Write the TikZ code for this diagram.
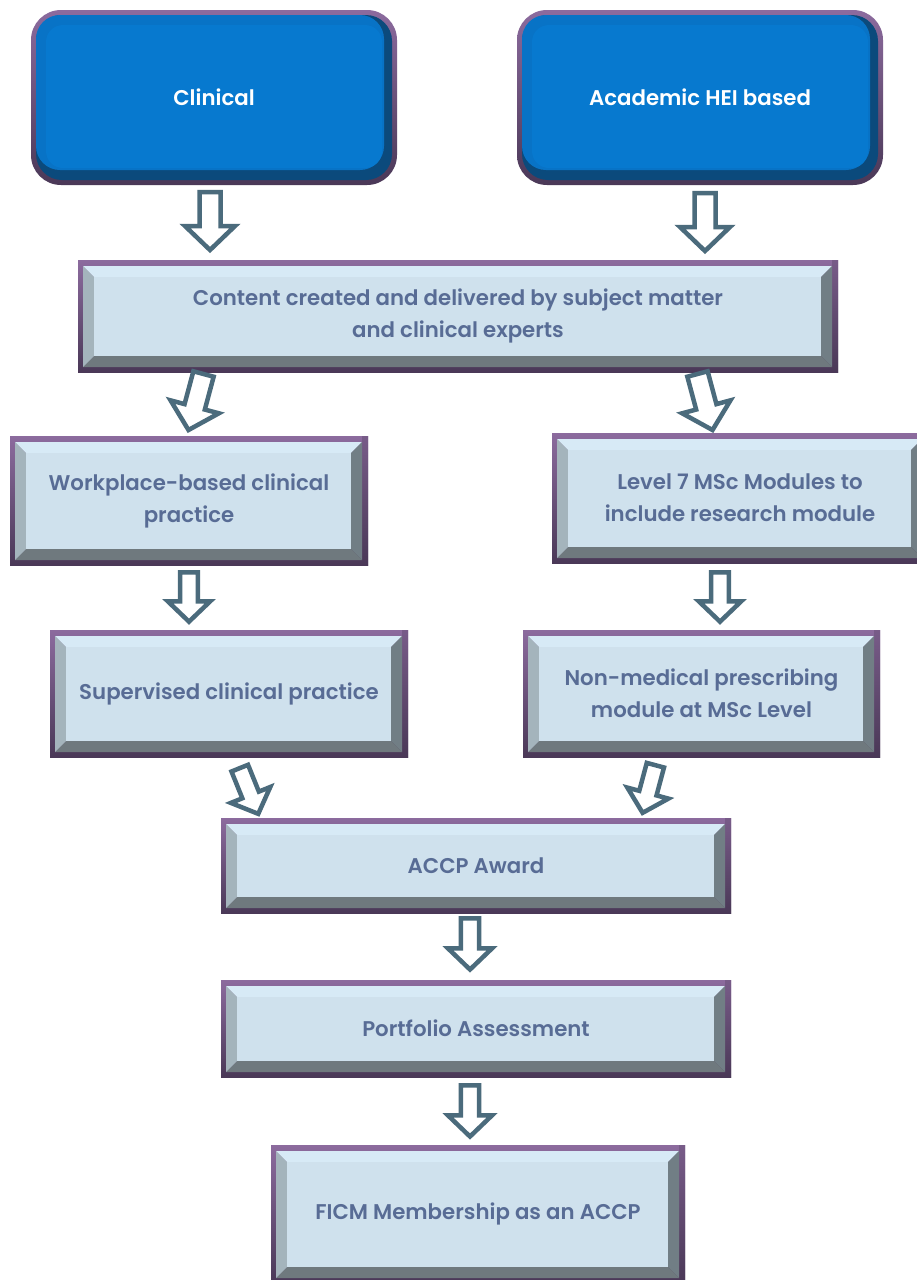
\documentclass[tikz,border=0pt]{standalone}
\usepackage{fontspec}
\setmainfont{Poppins}[BoldFont={Poppins SemiBold}]
\usetikzlibrary{calc}
\definecolor{txt}{HTML}{586C95}
\definecolor{frmT}{HTML}{8C6B9E}
\definecolor{frmB}{HTML}{4A3857}
\definecolor{bvTop}{HTML}{D7EAF6}
\definecolor{bvFace}{HTML}{CFE1ED}
\definecolor{bvLeft}{HTML}{A4B4BC}
\definecolor{bvRight}{HTML}{717E85}
\definecolor{bvBot}{HTML}{6F797E}
\definecolor{blueD}{HTML}{0B4A7C}
\definecolor{blueL}{HTML}{0873C6}
\definecolor{blueF}{HTML}{0779CF}
\definecolor{arr}{HTML}{4B6B7C}
\newcommand\boxfont{\bfseries\fontsize{21.3}{32}\selectfont}
\newcommand\bbox[6]{%
  \node[bevbox, minimum width={(#4-#2)*1pt}, minimum height={(#5-#3)*1pt}]
    (#1) at ({(#2+#4)/2},{(#3+#5)/2}) {#6};}
\newcommand\blbox[6]{%
  \node[bluebox, minimum width={(#4-#2)*1pt}, minimum height={(#5-#3)*1pt}]
    (#1) at ({(#2+#4)/2},{(#3+#5)/2}) {#6};}
\newcommand\barrowat[4]{% x, y, angle, scale
  \draw[barrow, shift={(#1,#2)}, rotate=#3, scale=#4]
    (-10.5,-29) -- (10.5,-29) -- (10.5,5) -- (25,5) -- (0,29) -- (-25,5) -- (-10.5,5) -- cycle;}
\tikzset{
  bevbox/.style={inner sep=0pt, align=center, text=txt, font=\boxfont,
    path picture={
      \coordinate (NW) at (path picture bounding box.north west);
      \coordinate (NE) at (path picture bounding box.north east);
      \coordinate (SE) at (path picture bounding box.south east);
      \coordinate (SW) at (path picture bounding box.south west);
      \shade[top color=frmT, bottom color=frmB] (NW) rectangle (SE);
      \shade[top color=frmT!70!frmB, bottom color=frmB] ([shift={(-6,0)}]NE) rectangle (SE);
      \coordinate (o1) at ([shift={(5,6)}]NW);
      \coordinate (o2) at ([shift={(-6,6)}]NE);
      \coordinate (o3) at ([shift={(-6,-5)}]SE);
      \coordinate (o4) at ([shift={(5,-5)}]SW);
      \coordinate (i1) at ([shift={(16,17)}]NW);
      \coordinate (i2) at ([shift={(-17,17)}]NE);
      \coordinate (i3) at ([shift={(-17,-16)}]SE);
      \coordinate (i4) at ([shift={(16,-16)}]SW);
      \fill[bvTop] (o1) -- (o2) -- (i2) -- (i1) -- cycle;
      \fill[bvRight] (o2) -- (o3) -- (i3) -- (i2) -- cycle;
      \fill[bvBot] (o3) -- (o4) -- (i4) -- (i3) -- cycle;
      \fill[bvLeft] (o4) -- (o1) -- (i1) -- (i4) -- cycle;
      \fill[bvFace] (i1) rectangle (i3);
    }},
  bluebox/.style={inner sep=0pt, align=center, text=white, font=\boxfont,
    rounded corners=30pt, top color=frmT, bottom color=frmB,
    path picture={
      \coordinate (NW) at (path picture bounding box.north west);
      \coordinate (SE) at (path picture bounding box.south east);
      \fill[blueD, rounded corners=26pt] ([shift={(5,5)}]NW) rectangle ([shift={(-5,-5)}]SE);
      \fill[blueL, rounded corners=24pt] ([shift={(5,5)}]NW) rectangle ([shift={(-13,-15)}]SE);
      \fill[blueF, rounded corners=17pt] ([shift={(15,15)}]NW) rectangle ([shift={(-15,-17)}]SE);
    }},
  barrow/.style={draw=arr, fill=white, line width=4.5pt, line join=miter}
}
\begin{document}
\begin{tikzpicture}[x=1pt,y=-1pt]
\useasboundingbox (0,0) rectangle (917,1280);
\fill[white] (0,0) rectangle (917,1280);
\blbox{clin}{31}{10}{397}{185}{Clinical}
\blbox{acad}{517}{10}{883}{185}{Academic HEI based}
\bbox{cont}{78}{260}{838}{372}{Content created and delivered by subject matter\\and clinical experts}
\bbox{work}{10}{436}{368}{565}{Workplace-based clinical\\practice}
\bbox{lev}{552}{433}{928}{563}{Level 7 MSc Modules to\\include research module}
\bbox{sup}{50}{630}{408}{757}{Supervised clinical practice}
\bbox{nonm}{523}{630}{880}{757}{Non-medical prescribing\\module at MSc Level}
\bbox{accp}{221}{818}{731}{913}{ACCP Award}
\bbox{port}{221}{980}{731}{1077}{Portfolio Assessment}
\bbox{ficm}{271}{1145}{685}{1283}{FICM Membership as an ACCP}
\barrowat{210}{221}{0}{1}
\barrowat{705}{222}{0}{1}
\barrowat{196}{402}{-15}{1}
\barrowat{705}{402}{15}{1}
\barrowat{189}{597}{0}{0.85}
\barrowat{720}{597}{0}{0.85}
\barrowat{249}{791}{22}{0.85}
\barrowat{649}{789}{-15}{0.85}
\barrowat{470}{944}{0}{0.88}
\barrowat{470}{1111}{0}{0.88}
\end{tikzpicture}
\end{document}
